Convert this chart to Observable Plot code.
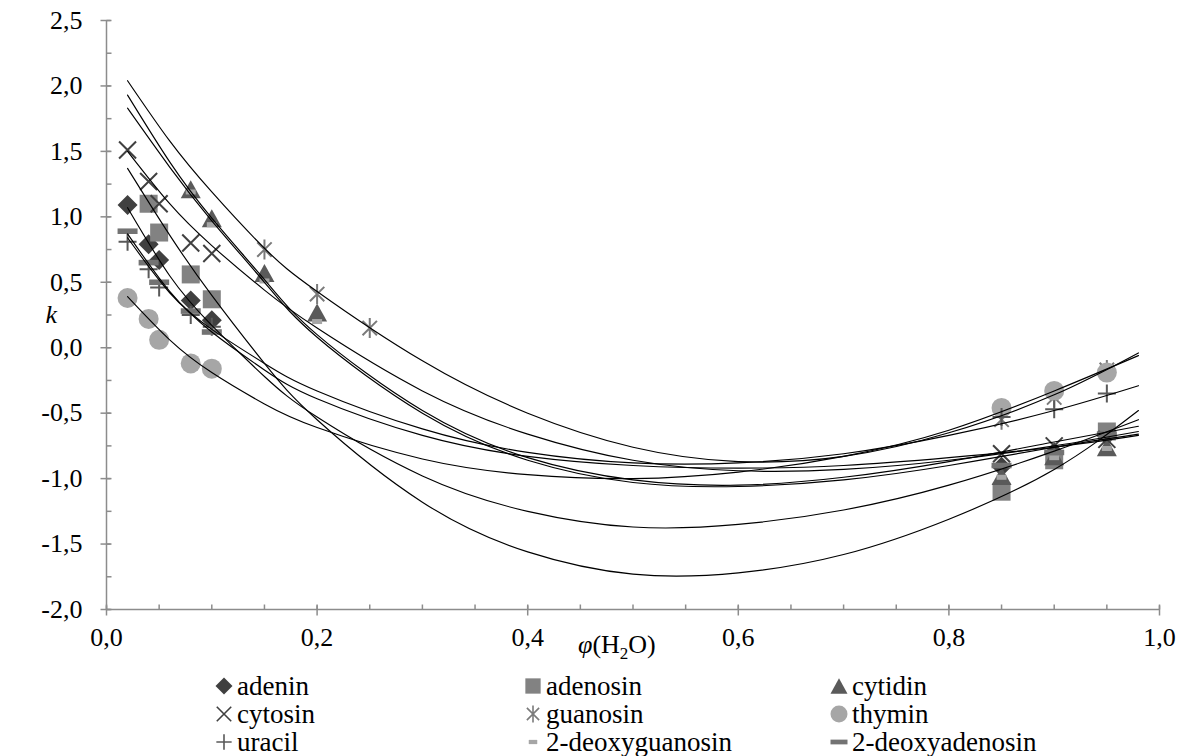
<!DOCTYPE html>
<html><head><meta charset="utf-8">
<script src="https://cdn.jsdelivr.net/npm/d3@7"></script>
<script src="https://cdn.jsdelivr.net/npm/@observablehq/plot@0.6"></script>
<style>
body{margin:0;background:#fff;font-family:'Liberation Serif',serif;color:#000;}
#wrap{position:relative;width:1193px;height:756px;overflow:hidden;}
.lg{position:absolute;display:flex;align-items:center;font-size:27px;line-height:28px;white-space:nowrap;}
.lg svg{margin-right:4px;flex:none;}
#xlab{position:absolute;font-size:26px;white-space:nowrap;}
</style></head><body>
<div id="wrap"><div id="chart"></div></div>
<script>
const seriesNames = ["adenin","adenosin","cytidin","cytosin","guanosin","thymin","uracil","2-deoxyguanosin","2-deoxyadenosin"];
const xAdenin   = [0.02,0.04,0.05,0.08,0.10,0.85,0.90,0.95];
const kAdenin   = [1.09,0.79,0.67,0.36,0.21,-0.91,-0.80,-0.67];
const xAdenosin = [0.04,0.05,0.08,0.10,0.85,0.90,0.95];
const kAdenosin = [1.10,0.88,0.56,0.37,-1.10,-0.86,-0.64];
const xCytidin  = [0.08,0.10,0.15,0.20,0.85,0.90,0.95];
const kCytidin  = [1.21,0.99,0.57,0.27,-0.98,-0.83,-0.76];
const xCytosin  = [0.02,0.04,0.05,0.08,0.10,0.85,0.90,0.95];
const kCytosin  = [1.51,1.27,1.10,0.80,0.72,-0.81,-0.75,-0.70];
const xGuanosin = [0.15,0.20,0.25,0.85,0.90,0.95];
const kGuanosin = [0.75,0.41,0.15,-0.55,-0.38,-0.17];
const xThymin   = [0.02,0.04,0.05,0.08,0.10,0.85,0.90,0.95];
const kThymin   = [0.38,0.22,0.06,-0.12,-0.16,-0.46,-0.33,-0.19];
const xUracil   = [0.02,0.04,0.05,0.08,0.10,0.85,0.90,0.95];
const kUracil   = [0.81,0.60,0.46,0.25,0.16,-0.53,-0.47,-0.35];
const xDeoxyG   = [0.08,0.10,0.15,0.20,0.85,0.90,0.95];
const kDeoxyG   = [1.19,0.94,0.51,0.20,-0.99,-0.84,-0.77];
const xDeoxyA   = [0.02,0.04,0.05,0.08,0.10,0.85,0.90,0.95];
const kDeoxyA   = [0.89,0.65,0.50,0.28,0.12,-0.90,-0.80,-0.66];

// ---------- trendlines at these φ values ----------
const trendX    = [0.02,0.06,0.10,0.15,0.20,0.30,0.40,0.50,0.60,0.70,0.80,0.90,0.98];
const tAdenin   = [1.07,0.55,0.17,-0.22,-0.53,-0.98,-1.25,-1.37,-1.35,-1.24,-1.05,-0.79,-0.55];
const tAdenosin = [1.37,0.86,0.40,-0.12,-0.55,-1.18,-1.56,-1.73,-1.72,-1.58,-1.31,-0.93,-0.48];
const tCytidin  = [1.93,1.42,0.99,0.52,0.10,-0.48,-0.84,-1.01,-1.05,-0.99,-0.87,-0.72,-0.60];
const tCytosin  = [1.50,1.10,0.78,0.44,0.15,-0.33,-0.66,-0.86,-0.94,-0.93,-0.86,-0.75,-0.64];
const tGuanosin = [2.04,1.58,1.19,0.76,0.43,-0.10,-0.50,-0.76,-0.87,-0.83,-0.65,-0.36,-0.04];
const tThymin   = [0.39,0.06,-0.19,-0.43,-0.61,-0.85,-0.97,-1.00,-0.95,-0.83,-0.63,-0.33,-0.06];
const tUracil   = [0.84,0.42,0.14,-0.12,-0.33,-0.62,-0.80,-0.88,-0.88,-0.81,-0.67,-0.48,-0.29];
const tDeoxyG   = [1.83,1.38,0.97,0.50,0.08,-0.50,-0.86,-1.03,-1.06,-1.01,-0.90,-0.76,-0.66];
const tDeoxyA   = [0.87,0.43,0.12,-0.17,-0.39,-0.67,-0.83,-0.90,-0.92,-0.90,-0.84,-0.76,-0.67];

const xTickLabels = [0,0.2,0.4,0.6,0.8,1.0];
const yTickLabels = [-2,-1.5,-1,-0.5,0,0.5,1,1.5,2,2.5];

const xsAll = [xAdenin,xAdenosin,xCytidin,xCytosin,xGuanosin,xThymin,xUracil,xDeoxyG,xDeoxyA];
const ksAll = [kAdenin,kAdenosin,kCytidin,kCytosin,kGuanosin,kThymin,kUracil,kDeoxyG,kDeoxyA];
const tAll  = [tAdenin,tAdenosin,tCytidin,tCytosin,tGuanosin,tThymin,tUracil,tDeoxyG,tDeoxyA];

// ---------- marker shapes ----------
const R = s => Math.sqrt(s/Math.PI);
const shapes = {
  diamond:{draw(c,s){const r=R(s);c.moveTo(0,-r);c.lineTo(r,0);c.lineTo(0,r);c.lineTo(-r,0);c.closePath();}},
  square:{draw(c,s){const r=R(s)*0.9;c.rect(-r,-r,2*r,2*r);}},
  triangle:{draw(c,s){const r=R(s);const h=r*0.9;c.moveTo(0,-h);c.lineTo(r,h);c.lineTo(-r,h);c.closePath();}},
  times:{draw(c,s){const r=R(s)*0.85;c.moveTo(-r,-r);c.lineTo(r,r);c.moveTo(-r,r);c.lineTo(r,-r);}},
  asterisk:{draw(c,s){const r=R(s);const d=r*0.72;c.moveTo(0,-r);c.lineTo(0,r);c.moveTo(-d,-d);c.lineTo(d,d);c.moveTo(-d,d);c.lineTo(d,-d);}},
  circle:{draw(c,s){const r=R(s);c.moveTo(r,0);c.arc(0,0,r,0,2*Math.PI);c.closePath();}},
  plus:{draw(c,s){const r=R(s)*0.9;c.moveTo(-r,0);c.lineTo(r,0);c.moveTo(0,-r);c.lineTo(0,r);}},
  dashS:{draw(c,s){const r=R(s);c.rect(-r*0.5,-r*0.25,r*1.0,r*0.5);}},
  dashL:{draw(c,s){const r=R(s);c.rect(-r,-r*0.28,2*r,r*0.56);}}
};
const styles = [
  {shape:"diamond", color:"#404040", fill:true},
  {shape:"square",  color:"#828282", fill:true},
  {shape:"triangle",color:"#5a5a5a", fill:true},
  {shape:"times",   color:"#404040", fill:false},
  {shape:"asterisk",color:"#7a7a7a", fill:false},
  {shape:"circle",  color:"#a6a6a6", fill:true},
  {shape:"plus",    color:"#595959", fill:false},
  {shape:"dashS",   color:"#a6a6a6", fill:true},
  {shape:"dashL",   color:"#737373", fill:true}
];

const points = [], curves = [];
seriesNames.forEach((name,i) => {
  xsAll[i].forEach((x,j) => points.push({series:name, x, k:ksAll[i][j]}));
  trendX.forEach((x,j) => curves.push({series:name, x, k:tAll[i][j]}));
});

const fmt = d => d.toFixed(1).replace(".",",");
const axisGray = "#8c8c8c";
const tickMajorX = {draw(c){c.moveTo(0,-4);c.lineTo(0,6);}};
const tickMinorX = {draw(c){c.moveTo(0,-5);c.lineTo(0,0);}};
const tickMajorY = {draw(c){c.moveTo(-6,0);c.lineTo(4,0);}};
const tickMinorY = {draw(c){c.moveTo(0,0);c.lineTo(5,0);}};
const xMinor = d3.range(0,1.0001,0.05);
const yMinor = d3.range(-2,2.5001,0.25);

const dotMarks = seriesNames.map((name,i) => {
  const st = styles[i];
  return Plot.dot(points.filter(d => d.series===name), {
    x:"x", y:"k", r:10, symbol:()=>shapes[st.shape],
    fill: st.fill ? st.color : "none", stroke: st.fill ? "none" : st.color, strokeWidth: st.fill ? 0 : 2
  });
});

const chart = Plot.plot({
  width:1193, height:670,
  marginLeft:106, marginRight:34, marginTop:20, marginBottom:61,
  style:{fontFamily:"'Liberation Serif', serif", fontSize:"26px", color:"#000", background:"#fff"},
  x:{domain:[0,1]},
  y:{domain:[-2,2.5]},
  marks:[
    Plot.ruleY([-2], {stroke:axisGray, strokeWidth:1.5}),
    Plot.ruleX([0], {stroke:axisGray, strokeWidth:1.5}),
    Plot.dot(xMinor, {x:d=>d, y:()=>-2, symbol:()=>tickMinorX, stroke:axisGray, strokeWidth:1.5}),
    Plot.dot(xTickLabels, {x:d=>d, y:()=>-2, symbol:()=>tickMajorX, stroke:axisGray, strokeWidth:1.5}),
    Plot.dot(yMinor, {y:d=>d, x:()=>0, symbol:()=>tickMinorY, stroke:axisGray, strokeWidth:1.5}),
    Plot.dot(yTickLabels, {y:d=>d, x:()=>0, symbol:()=>tickMajorY, stroke:axisGray, strokeWidth:1.5}),
    Plot.axisX({ticks:xTickLabels, tickSize:0, tickPadding:18, tickFormat:fmt, fontSize:26, label:null}),
    Plot.axisY({ticks:yTickLabels, tickSize:0, tickPadding:24, tickFormat:fmt, fontSize:26, label:null}),
    Plot.text(["k"], {frameAnchor:"left", dx:-61, fontStyle:"italic", fontSize:26}),
    ...dotMarks,
    Plot.line(curves, {x:"x", y:"k", z:"series", stroke:"#000", strokeWidth:1.15, curve:"natural"})
  ]
});
document.getElementById("chart").appendChild(chart);

const wrap = document.getElementById("wrap");
const xl = document.createElement("div");
xl.id = "xlab";
xl.innerHTML = '<i>φ</i>(H<sub style="font-size:17px">2</sub>O)';
xl.style.left = "578px"; xl.style.top = "630px";
wrap.appendChild(xl);

// legend (3 columns, rows read left to right)
const legCols = [215, 524, 830];
const legRows = [672, 700, 728];
seriesNames.forEach((name,i) => {
  const st = styles[i];
  const d = document.createElement("div");
  d.className = "lg";
  d.style.left = legCols[i%3] + "px";
  d.style.top = legRows[Math.floor(i/3)] + "px";
  const svg = d3.create("svg").attr("width",18).attr("height",18);
  const p = d3.path();
  shapes[st.shape].draw(p, Math.PI*8.5*8.5);
  svg.append("path").attr("transform","translate(9,9)").attr("d", p.toString())
    .attr("fill", st.fill ? st.color : "none").attr("stroke", st.fill ? "none" : st.color).attr("stroke-width", st.fill?0:1.6);
  d.appendChild(svg.node());
  const s = document.createElement("span"); s.textContent = name; d.appendChild(s);
  wrap.appendChild(d);
});
</script>
</body></html>
